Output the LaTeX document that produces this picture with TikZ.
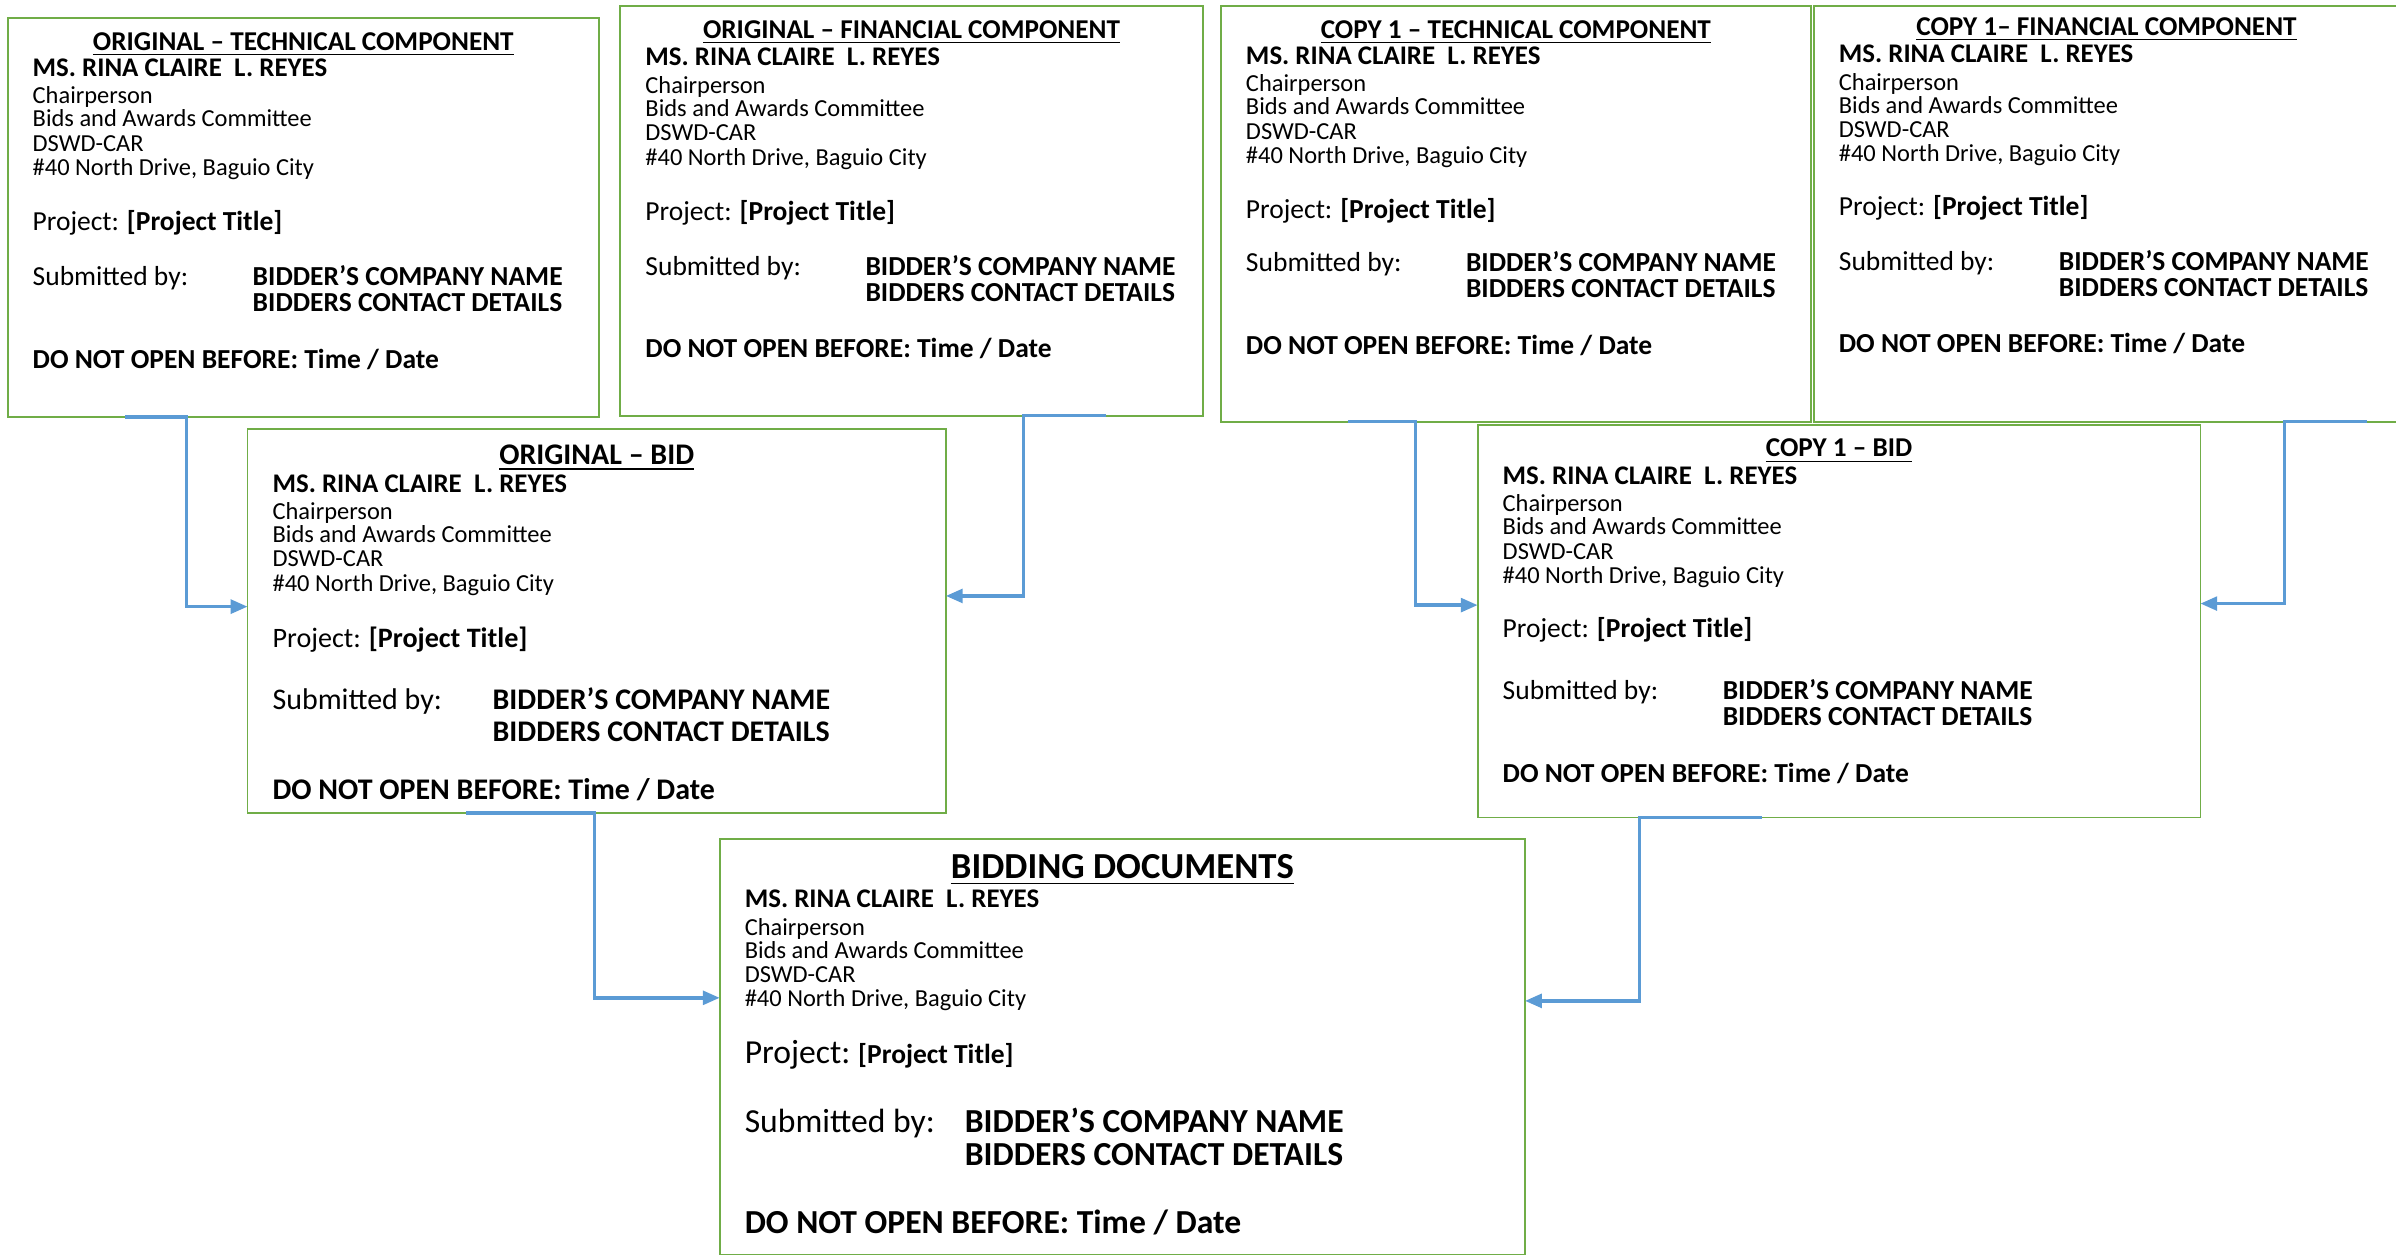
\documentclass[tikz,border=0pt]{standalone}
\usepackage{fontspec}
\setmainfont{Carlito}
\usetikzlibrary{calc,arrows.meta}

\definecolor{boxgreen}{HTML}{70AD47}
\definecolor{linkblue}{HTML}{5B9BD5}

\tikzset{
  envbox/.style={draw=boxgreen, line width=0.6pt, anchor=north west, inner sep=0pt, outer sep=0pt},
  link/.style={draw=linkblue, line width=1.1pt, -{Triangle[length=5.5pt,width=4.5pt]}},
  ttl/.style={anchor=base, inner sep=0pt, font=\bfseries\fontsize{8.9}{10}\selectfont},
  nm/.style={anchor=base west, inner sep=0pt, font=\bfseries\fontsize{8.8}{10}\selectfont},
  sml/.style={anchor=base west, inner sep=0pt, font=\fontsize{8}{9}\selectfont},
  prj/.style={anchor=base west, inner sep=0pt, font=\fontsize{9}{10}\selectfont},
  ptl/.style={anchor=base west, inner sep=0pt, font=\bfseries\fontsize{9}{10}\selectfont},
  txt/.style={anchor=base west, inner sep=0pt, font=\fontsize{9}{10}\selectfont},
}

% box: name, x, y, width, height
\newcommand{\bidbox}[5]{%
  \node[envbox, minimum width=#4*0.5pt, minimum height=#5*0.5pt] (#1) at (#2,#3) {};}

% text of a box: name, title, then baselines of title, name, project, submitted, contact, do-not-open
\newcommand{\envtext}[8]{%
  \node[ttl] at ($(#1.north)+(0,#3)$) {\underline{#2}};
  \node[nm]  at ($(#1.north west)+(16,#4)$) {MS. RINA CLAIRE\ \ L. REYES};
  \node[sml] at ($(#1.north west)+(16,#4+18)$) {Chairperson};
  \node[sml] at ($(#1.north west)+(16,#4+33)$) {Bids and Awards Committee};
  \node[sml] at ($(#1.north west)+(16,#4+49)$) {DSWD-CAR};
  \node[sml] at ($(#1.north west)+(16,#4+65)$) {\#40 North Drive, Baguio City};
  \node[prj] (#1-p) at ($(#1.north west)+(16,#5)$) {Project:};
  \node[ptl] at ([xshift=2.2pt]#1-p.base east) {[Project Title]};
  \node[txt] at ($(#1.north west)+(16,#6)$) {Submitted by:};
  \node[txt] at ($(#1.north west)+(160,#6)$) {\textbf{BIDDER’S COMPANY NAME}};
  \node[txt] at ($(#1.north west)+(160,#7)$) {\textbf{BIDDERS CONTACT DETAILS}};
  \node[txt] at ($(#1.north west)+(16,#8)$) {\textbf{DO NOT OPEN BEFORE: Time / Date}};}

\begin{document}
\begin{tikzpicture}[x=0.5pt, y=-0.5pt]
  \useasboundingbox (0,0) rectangle (1568,823);
  \clip (0,0) rectangle (1568,823);

  \bidbox{origtech}{5}{12}{387}{261}
  \bidbox{origfin}{406}{4}{381}{268}
  \bidbox{copytech}{799}{4}{386}{272}
  \bidbox{copyfin}{1187}{4}{383}{272}
  \bidbox{origbid}{162}{281}{457}{251}
  \bidbox{copybid}{967}{278}{473}{257}
  \bidbox{biddocs}{471}{549}{527}{272}

  \envtext{origtech}{ORIGINAL – TECHNICAL COMPONENT}{21}{38}{139}{175}{192}{229}
  \envtext{origfin}{ORIGINAL – FINANCIAL COMPONENT}{21}{39}{140}{176}{193}{230}
  \envtext{copytech}{COPY 1 – TECHNICAL COMPONENT}{21}{38}{139}{174}{191}{228}
  \envtext{copyfin}{COPY 1– FINANCIAL COMPONENT}{19}{37}{137}{173}{190}{227}
  \begin{scope}[ttl/.append style={font=\bfseries\fontsize{9.8}{11}\selectfont},
                prj/.append style={font=\fontsize{9.2}{10}\selectfont},
                ptl/.append style={font=\bfseries\fontsize{9.2}{10}\selectfont},
                txt/.append style={font=\fontsize{9.8}{11}\selectfont}]
    \envtext{origbid}{ORIGINAL – BID}{23}{41}{143}{183}{204}{242}
  \end{scope}
  \envtext{copybid}{COPY 1 – BID}{21}{39}{139}{180}{197}{234}
  \begin{scope}[ttl/.append style={font=\bfseries\fontsize{12}{14}\selectfont},
                prj/.append style={font=\fontsize{11}{13}\selectfont},
                txt/.append style={font=\fontsize{11}{13}\selectfont}]
    \envtext{biddocs}{BIDDING DOCUMENTS}{26}{45}{147}{192}{214}{258}
  \end{scope}

  \draw[link] ($(origtech.south west)+(77,0)$) -- ($(origtech.south west)+(117,0)$) |- ($(origbid.north west)+(0,116)$);
  \draw[link] ($(origfin.south west)+(318,0)$) -- ($(origfin.south west)+(264,0)$) |- ($(origbid.north east)+(0,109)$);
  \draw[link] ($(copytech.south west)+(83,0)$) -- ($(copytech.south west)+(127.5,0)$) |- ($(copybid.north west)+(0,118)$);
  \draw[link] ($(copyfin.south west)+(362,0)$) -- ($(copyfin.south west)+(308,0)$) |- ($(copybid.north east)+(0,117)$);
  \draw[link] ($(origbid.south west)+(143,0)$) -- ($(origbid.south west)+(227,0)$) |- ($(biddocs.north west)+(0,104)$);
  \draw[link] ($(copybid.south west)+(186,0)$) -- ($(copybid.south west)+(106,0)$) |- ($(biddocs.north east)+(0,106)$);
\end{tikzpicture}
\end{document}
